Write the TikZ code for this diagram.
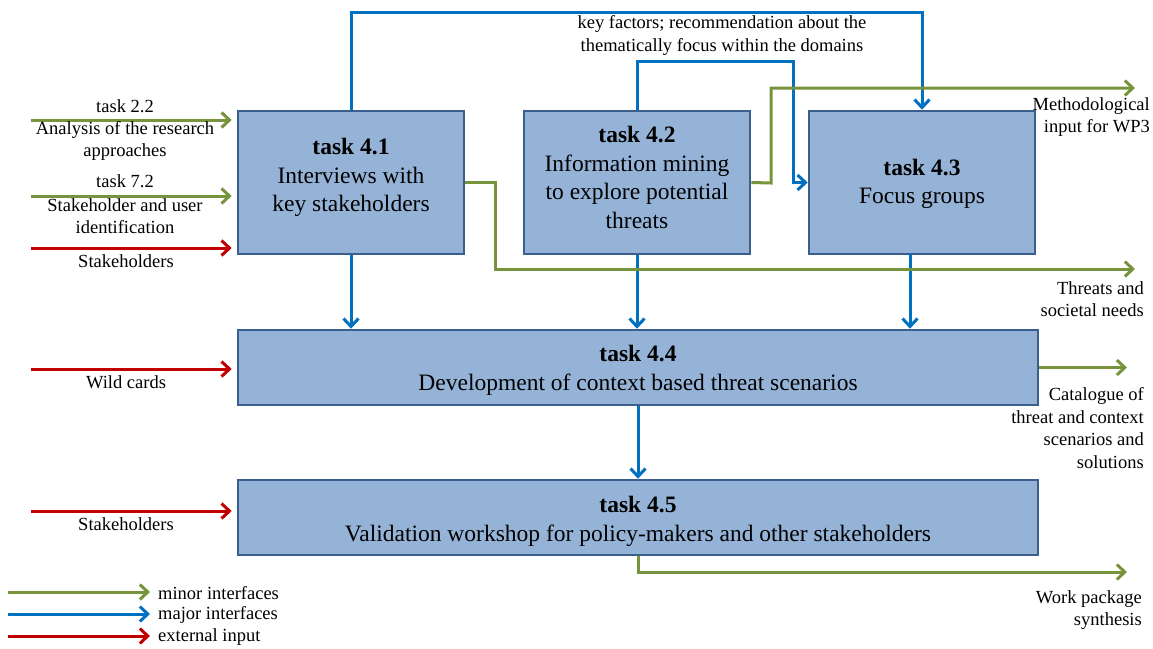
\documentclass[tikz,border=0pt]{standalone}
\usepackage{fontspec}
\setmainfont{Liberation Serif}
\usetikzlibrary{arrows.meta}
\definecolor{minorc}{HTML}{77933C}
\definecolor{majorc}{HTML}{0070C0}
\definecolor{extc}{HTML}{C00000}
\definecolor{boxfill}{HTML}{95B3D7}
\definecolor{boxline}{HTML}{3A5F8E}
\begin{document}
\begin{tikzpicture}[x=1pt,y=-1pt,
  taskbox/.style={draw=boxline, fill=boxfill, line width=2.6pt, inner sep=0pt},
  boxtext/.style={inner sep=0pt, align=center, font=\fontsize{23.5}{28.5}\selectfont},
  lbl/.style={inner sep=0pt, align=center, font=\fontsize{18.5}{22.5}\selectfont},
  rlbl/.style={lbl, align=right, anchor=east},
  flow/.style={line width=3pt, -{Straight Barb[length=8pt,width=15pt]}},
  minor/.style={flow, draw=minorc},
  major/.style={flow, draw=majorc},
  extin/.style={flow, draw=extc}]
\useasboundingbox (0,0) rectangle (1153,648);

% task boxes
\node[taskbox, minimum width=226pt, minimum height=143pt] (t41) at (351,182.5) {};
\node[taskbox, minimum width=226pt, minimum height=143pt] (t42) at (637,182.5) {};
\node[taskbox, minimum width=226pt, minimum height=143pt] (t43) at (922,182.5) {};
\node[taskbox, minimum width=800pt, minimum height=75pt] (t44) at (638,367.5) {};
\node[taskbox, minimum width=800pt, minimum height=75pt] (t45) at (638,517.5) {};
\node[boxtext] (t41txt) at (351,177.5) {\textbf{task 4.1}\\Interviews with\\key stakeholders};
\node[boxtext] (t42txt) at (637,177.5) {\textbf{task 4.2}\\Information mining\\to explore potential\\threats};
\node[boxtext] (t43txt) at (922,184) {\textbf{task 4.3}\\Focus groups};
\node[boxtext] (t44txt) at (638,370.5) {\textbf{task 4.4}\\Development of context based threat scenarios};
\node[boxtext] (t45txt) at (638,521.5) {\textbf{task 4.5}\\Validation workshop for policy-makers and other stakeholders};

% major interfaces between the tasks
\coordinate (top1) at (351,12);
\draw[major] (t41.north) -- (top1) -| (t43.north);
\node[lbl] (kf) at (722,35.5) {key factors; recommendation about the\\thematically focus within the domains};
\coordinate (top2) at (793,61);
\draw[major] (t42.north) |- (top2) |- (t43.west);
\draw[major] (t41.south) -- (t41.south |- t44.north);
\draw[major] (t42.south) -- (t42.south |- t44.north);
\coordinate (d43) at (910,254);
\draw[major] (d43) -- (d43 |- t44.north);
\draw[major] (t44.south) -- (t45.north);

% minor interfaces leaving the tasks
\node[rlbl] (meth) at (1150,117) {Methodological\\input for WP3};
\coordinate (methend) at (1135,88);
\coordinate (bend42) at (771,183);
\draw[minor] (t42.east) -- (bend42) |- (methend);
\node[rlbl] (thr) at (1144,299) {Threats and\\societal needs};
\coordinate (thrend) at (1135,269);
\coordinate (bend41) at (495,269);
\draw[minor] (t41.east) -| (bend41) -- (thrend);
\node[rlbl] (cat) at (1144,428) {Catalogue of\\threat and context\\scenarios and\\solutions};
\coordinate (catend) at (1127,367.5);
\draw[minor] (t44.east) -- (catend);
\node[rlbl] (wps) at (1142,610) {Work package\\synthesis};
\coordinate (wpsend) at (1127,572);
\draw[minor] (t45.south) |- (wpsend);

% inputs on the left
\coordinate (in22) at (31,120);
\draw[minor, shorten >=5pt] (in22) -- (in22 -| t41.west);
\node[lbl] (l22a) at (125,106) {task 2.2};
\node[lbl] (l22b) at (125,141) {Analysis of the research\\approaches};
\coordinate (in72) at (31,196);
\draw[minor, shorten >=5pt] (in72) -- (in72 -| t41.west);
\node[lbl] (l72a) at (125,181) {task 7.2};
\node[lbl] (l72b) at (125,216) {Stakeholder and user\\identification};
\coordinate (inst1) at (31,248);
\draw[extin, shorten >=5pt] (inst1) -- (inst1 -| t41.west);
\node[lbl] (lst1) at (126,261) {Stakeholders};
\coordinate (inwc) at (31,369);
\draw[extin, shorten >=5pt] (inwc) -- (inwc -| t44.west);
\node[lbl] (lwc) at (126,382) {Wild cards};
\coordinate (inst2) at (31,511);
\draw[extin, shorten >=5pt] (inst2) -- (inst2 -| t45.west);
\node[lbl] (lst2) at (126,524) {Stakeholders};

% legend
\node[lbl, anchor=west] (lgminor) at (158,593) {minor interfaces};
\node[lbl, anchor=west] (lgmajor) at (158,615) {major interfaces};
\node[lbl, anchor=west] (lgext) at (158,637) {external input};
\coordinate (lg1) at (8,592);
\coordinate (lg2) at (8,614);
\coordinate (lg3) at (8,636);
\draw[minor, shorten >=8pt] (lg1) -- (lg1 -| lgminor.west);
\draw[major, shorten >=8pt] (lg2) -- (lg2 -| lgmajor.west);
\draw[extin, shorten >=8pt] (lg3) -- (lg3 -| lgext.west);
\end{tikzpicture}
\end{document}
